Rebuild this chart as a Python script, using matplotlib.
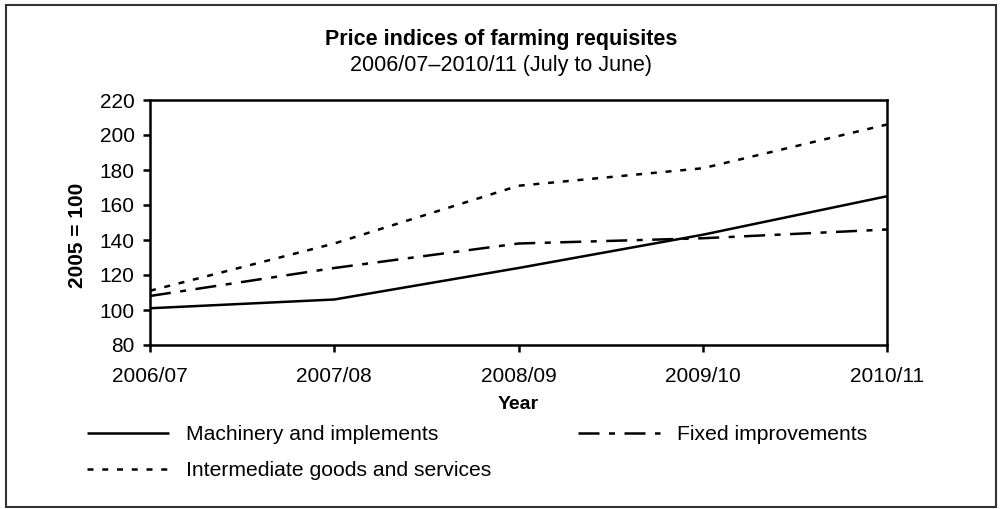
import matplotlib.pyplot as plt
from matplotlib.patches import Rectangle

plt.rcParams['font.family'] = ['Liberation Sans', 'DejaVu Sans']

# --- Data ---
years = ["2006/07", "2007/08", "2008/09", "2009/10", "2010/11"]
machinery = [101, 106, 124, 143, 165]
fixed = [108, 124, 138, 141, 146]
intermediate = [111, 138, 171, 181, 206]

W, H = 1003, 509
fig = plt.figure(figsize=(W / 100, H / 100), dpi=100)
ax = fig.add_axes([150 / W, 1 - 345 / H, (887 - 150) / W, (345 - 100) / H])

x = range(len(years))
LW = 1.8
ax.plot(x, machinery, color='black', lw=LW, solid_capstyle='butt',
        label="Machinery and implements")
ax.plot(x, fixed, color='black', lw=LW, dash_capstyle='butt',
        linestyle=(0, (8.4, 3.8, 2.4, 3.8)), label="Fixed improvements")
ax.plot(x, intermediate, color='black', lw=LW, dash_capstyle='butt',
        linestyle=(0, (2.4, 3.5)), label="Intermediate goods and services")

ax.set_xlim(0, len(years) - 1)
ax.set_ylim(80, 220)
ax.set_yticks(range(80, 221, 20))
ax.set_xticks(list(x))
ax.set_xticklabels(years)

for s in ax.spines.values():
    s.set_linewidth(1.8)
ax.tick_params(axis='both', direction='out', length=5, width=1.8, labelsize=15)
ax.tick_params(axis='x', pad=11)
ax.tick_params(axis='y', pad=6)

ax.set_ylabel("2005 = 100", fontsize=15, fontweight='bold')
ax.yaxis.set_label_coords(-0.086, 0.449)
ax.set_xlabel("Year", fontsize=14, fontweight='bold', labelpad=7)

# Titles
fig.text(0.5, 1 - 40 / H, "Price indices of farming requisites", ha='center',
         va='center', fontsize=15.5, fontweight='bold')
fig.text(0.5, 1 - 65 / H, "2006/07\u20132010/11 (July to June)", ha='center',
         va='center', fontsize=15.5)

# Legend below the axes
handles, labels = ax.get_legend_handles_labels()
order = [0, 2, 1]
fig.legend([handles[i] for i in order], [labels[i] for i in order], ncol=2,
           loc='upper left', bbox_to_anchor=(68 / W, 1 - 406 / H),
           frameon=False, fontsize=15.2, handlelength=3.9, handletextpad=0.8,
           columnspacing=4.1, labelspacing=0.82)

# Outer frame
fig.patches.append(Rectangle((6 / W, 2 / H), 990 / W, 502 / H,
                             transform=fig.transFigure, fill=False,
                             edgecolor='#333333', lw=1.5))

fig.savefig("out.png", dpi=100)
